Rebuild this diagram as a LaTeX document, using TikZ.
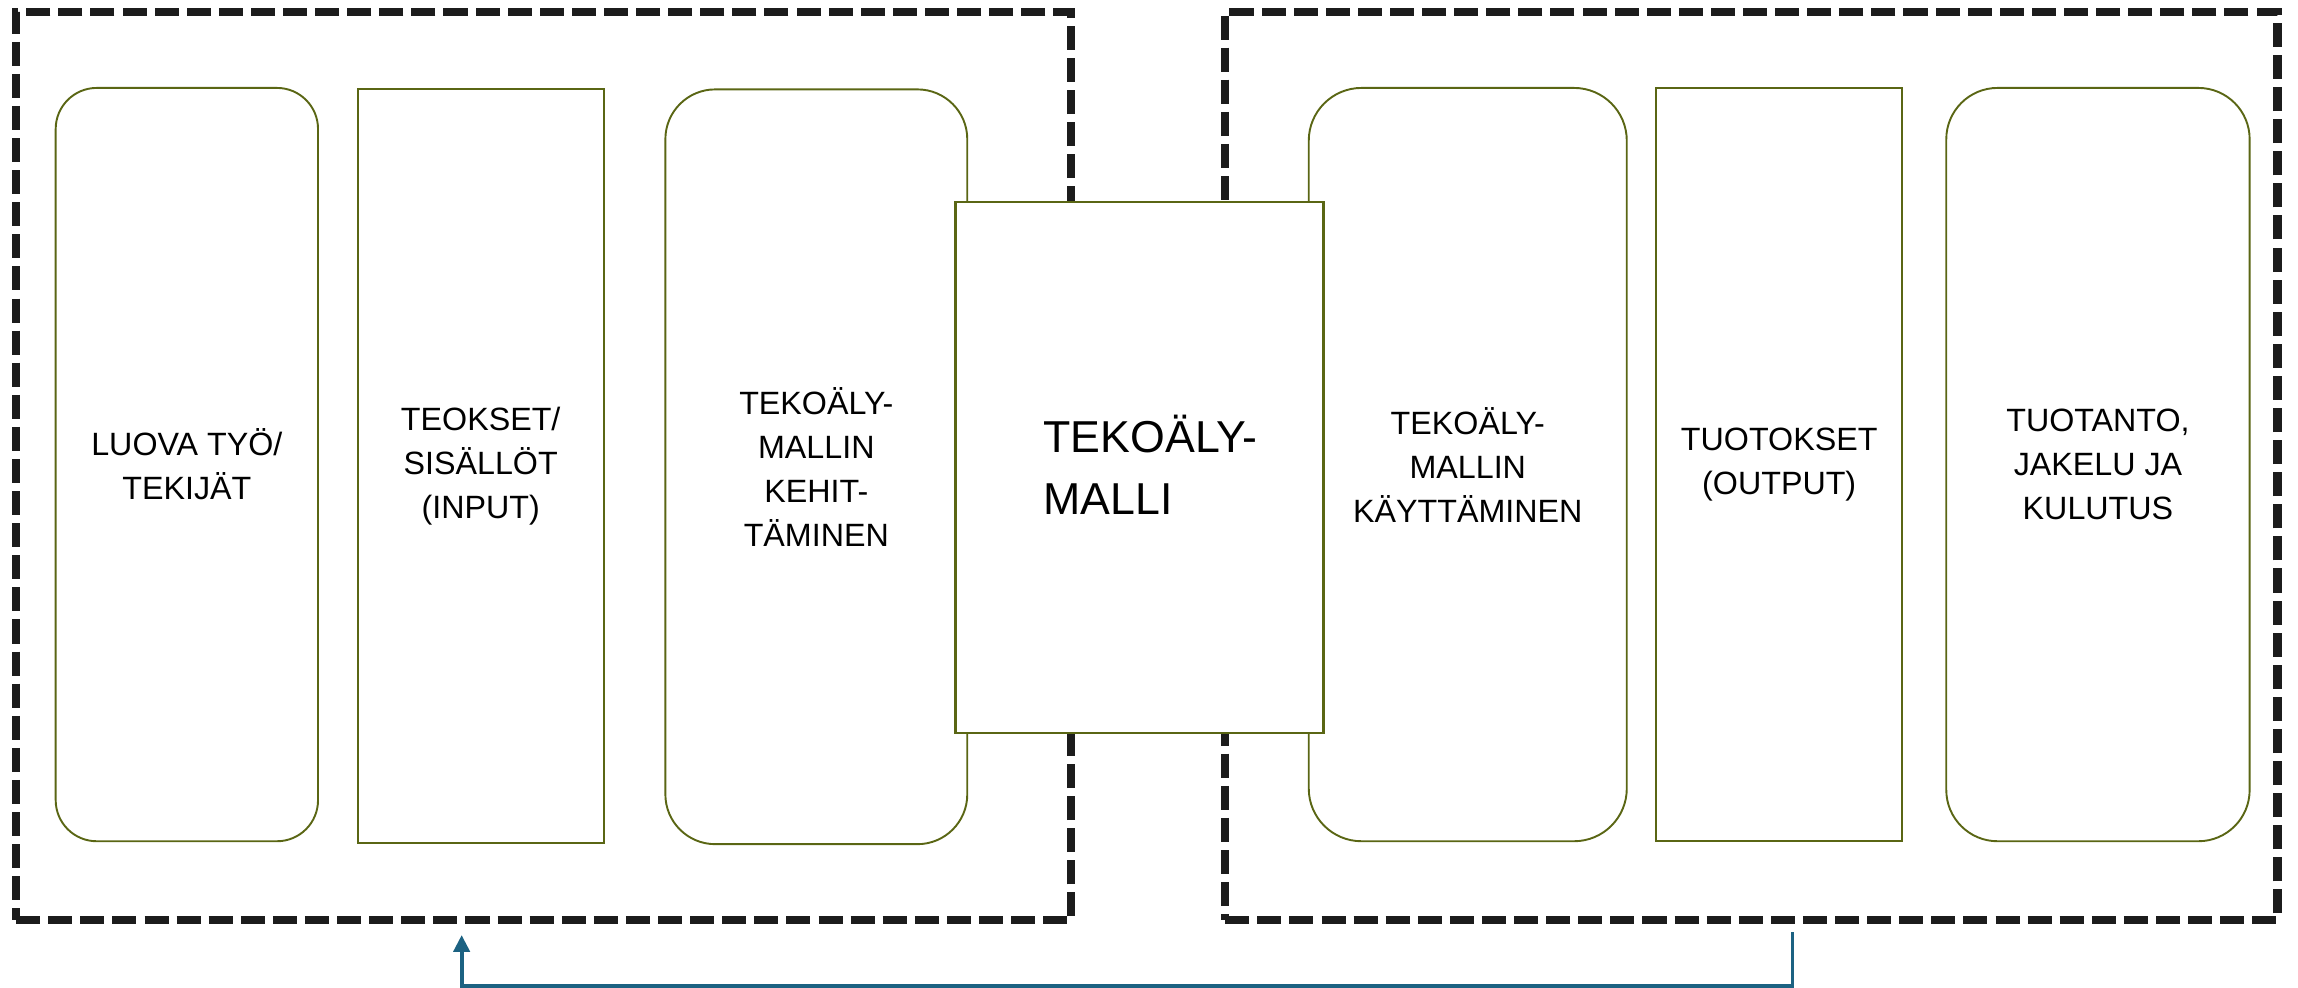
\documentclass[tikz,border=0pt]{standalone}
\usepackage{fontspec}
\setmainfont{Liberation Sans}
\usetikzlibrary{arrows.meta}
\definecolor{olive}{RGB}{90,102,20}
\definecolor{flowblue}{RGB}{28,98,130}
\definecolor{dashgray}{RGB}{28,28,28}
\tikzset{
  group/.style={draw=dashgray, line width=5.5pt, dash pattern=on 16.4pt off 5.5pt, inner sep=0pt},
  rbox/.style={draw=olive, line width=1.3pt, rounded corners=#1, inner sep=0pt, align=center,
    font=\fontsize{22}{30}\selectfont},
  sbox/.style={draw=olive, line width=1.3pt, inner sep=0pt, align=center,
    font=\fontsize{22}{30}\selectfont},
  cbox/.style={draw=olive, fill=white, line width=1.7pt, inner sep=0pt},
  ctext/.style={inner sep=0pt, align=left, font=\fontsize{30.5}{42}\selectfont},
  flow/.style={draw=flowblue, line width=2.6pt, -{Triangle[length=11.5pt,width=11pt]}}
}
\begin{document}
\begin{tikzpicture}[x=1pt,y=-1pt]
\useasboundingbox (0,0) rectangle (1568,674);
% dashed groups
\node[group, minimum width=720pt, minimum height=620pt] (gl) at (371,318) {};
\node[group, minimum width=718pt, minimum height=620pt] (gr) at (1195,318) {};
% boxes
\node[rbox=28pt, minimum width=179pt, minimum height=514pt] (b1) at (127.5,317)
  {LUOVA TYÖ/\\TEKIJÄT};
\node[sbox, minimum width=168pt, minimum height=514pt] (b2) at (328,318)
  {TEOKSET/\\SISÄLLÖT\\(INPUT)};
\node[rbox=34pt, minimum width=206pt, minimum height=515pt] (b3) at (557,318.5)
  {TEKOÄLY-\\MALLIN\\KEHIT-\\TÄMINEN};
\node[rbox=36pt, minimum width=217pt, minimum height=514pt] (b4) at (1001.5,317)
  {TEKOÄLY-\\MALLIN\\KÄYTTÄMINEN};
\node[sbox, minimum width=168pt, minimum height=514pt] (b5) at (1214,317)
  {TUOTOKSET\\(OUTPUT)};
\node[rbox=35pt, minimum width=207pt, minimum height=514pt] (b6) at (1431.5,317)
  {TUOTANTO,\\JAKELU JA\\KULUTUS};
% central model
\node[cbox, minimum width=251pt, minimum height=362pt] (bc) at (777.5,319) {};
\node[ctext, xshift=7.5pt, yshift=2pt] (bct) at (bc.center) {TEKOÄLY-\\MALLI};
% feedback arrow
\coordinate (fs) at (1223,636);
\coordinate (fe) at (315,638);
\draw[flow] (fs) -- ++(0,36.5) -| (fe);
\end{tikzpicture}
\end{document}
